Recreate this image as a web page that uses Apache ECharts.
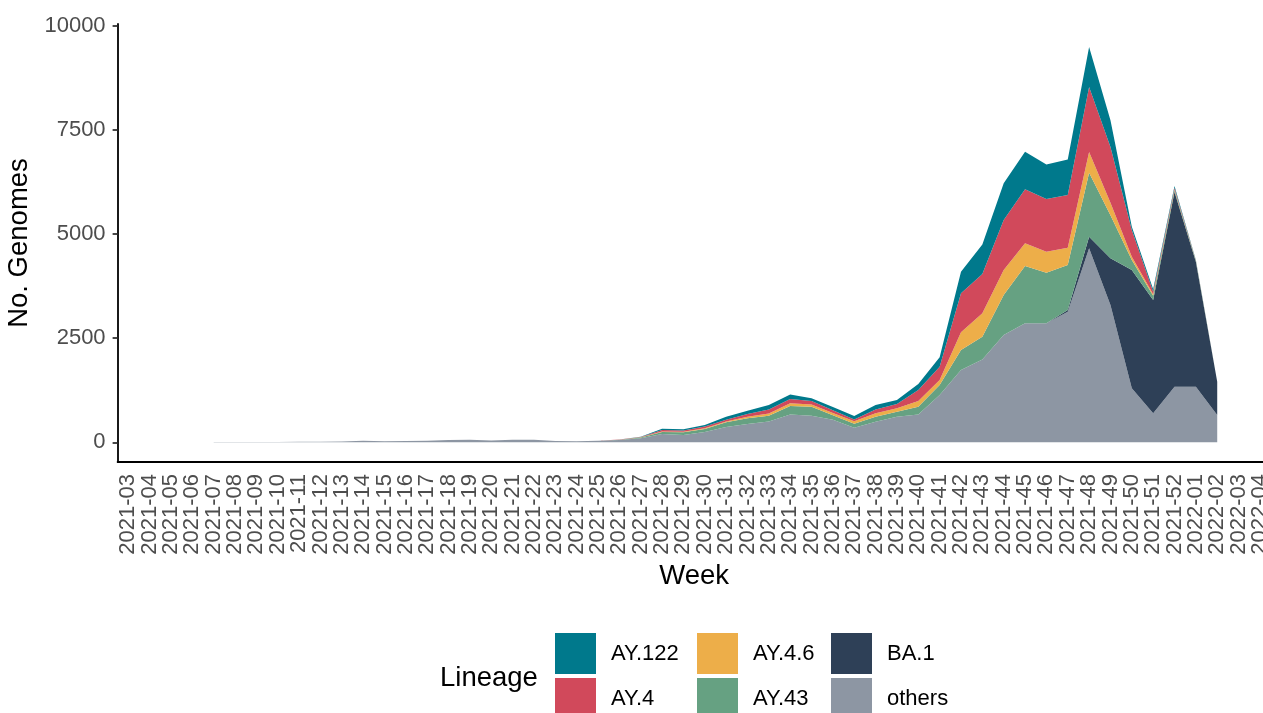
<!DOCTYPE html>
<html>
<head>
<meta charset="utf-8">
<script src="https://cdn.jsdelivr.net/npm/echarts@6/dist/echarts.min.js"></script>
<style>
  html, body { margin: 0; padding: 0; background: #fff; }
  #chart { width: 1263px; height: 713px; }
</style>
</head>
<body>
<div id="chart"></div>
<script>
// Weekly sequenced genomes by lineage (stacked)
const weeks = [
  '2021-03','2021-04','2021-05','2021-06','2021-07','2021-08','2021-09','2021-10','2021-11','2021-12',
  '2021-13','2021-14','2021-15','2021-16','2021-17','2021-18','2021-19','2021-20','2021-21','2021-22',
  '2021-23','2021-24','2021-25','2021-26','2021-27','2021-28','2021-29','2021-30','2021-31','2021-32',
  '2021-33','2021-34','2021-35','2021-36','2021-37','2021-38','2021-39','2021-40','2021-41','2021-42',
  '2021-43','2021-44','2021-45','2021-46','2021-47','2021-48','2021-49','2021-50','2021-51','2021-52',
  '2022-01','2022-02','2022-03','2022-04'
];

const others = [
  null, null, null, null, 8, 10, 6, 10, 12, 14,
  20, 35, 28, 30, 35, 55, 60, 45, 62, 60,
  30, 25, 35, 55, 100, 200, 175, 250, 365, 440,
  500, 670, 640, 540, 350, 495, 615, 670, 1135, 1735,
  1990, 2575, 2855, 2855, 3135, 4655, 3295, 1295, 700, 1335,
  1335, 655, null, null
];
const ba1 = [
  null, null, null, null, 0, 0, 0, 0, 0, 0,
  0, 0, 0, 0, 0, 0, 0, 0, 0, 0,
  0, 0, 0, 0, 0, 0, 0, 0, 0, 0,
  0, 0, 0, 0, 0, 0, 0, 0, 0, 0,
  0, 0, 0, 0, 40, 280, 1120, 2840, 2715, 4675,
  3000, 800, null, null
];
const ay43 = [
  null, null, null, null, 0, 0, 0, 0, 0, 0,
  0, 0, 0, 0, 0, 0, 0, 0, 0, 0,
  0, 0, 3, 8, 15, 47, 65, 70, 115, 140,
  140, 200, 215, 110, 95, 120, 120, 185, 240, 480,
  545, 960, 1375, 1215, 1080, 1535, 1035, 240, 100, 40,
  15, 0, null, null
];
const ay46 = [
  null, null, null, null, 0, 0, 0, 0, 0, 0,
  0, 0, 0, 0, 0, 0, 0, 0, 0, 0,
  0, 0, 0, 0, 5, 15, 15, 20, 20, 35,
  50, 70, 55, 55, 60, 80, 80, 135, 120, 425,
  560, 600, 545, 505, 415, 500, 300, 80, 40, 20,
  5, 0, null, null
];
const ay4 = [
  null, null, null, null, 0, 0, 0, 0, 0, 0,
  0, 0, 0, 0, 0, 0, 0, 0, 0, 0,
  0, 0, 2, 4, 8, 35, 30, 40, 40, 65,
  95, 100, 80, 65, 45, 95, 105, 265, 320, 935,
  945, 1200, 1300, 1265, 1265, 1560, 1340, 640, 60, 40,
  10, 0, null, null
];
const ay122 = [
  null, null, null, null, 0, 0, 0, 0, 0, 0,
  0, 0, 0, 0, 0, 0, 0, 0, 0, 0,
  0, 0, 0, 3, 7, 30, 26, 35, 75, 80,
  110, 110, 65, 75, 80, 105, 95, 145, 225, 520,
  710, 880, 900, 830, 855, 960, 640, 80, 60, 40,
  10, 0, null, null
];

const yTicks = [0, 2500, 5000, 7500, 10000];

const palette = {
  'AY.122': '#00798c',
  'AY.4': '#d1495b',
  'AY.4.6': '#edae49',
  'AY.43': '#66a182',
  'BA.1': '#2e4057',
  'others': '#8d96a3'
};

// bottom-to-top stacking order
const layers = [
  ['others', others],
  ['BA.1', ba1],
  ['AY.43', ay43],
  ['AY.4.6', ay46],
  ['AY.4', ay4],
  ['AY.122', ay122]
];

const FONT = 'Liberation Sans, Arial, sans-serif';

function legendColumn(left, names) {
  return {
    orient: 'vertical',
    left: left,
    top: 633,
    width: 130,
    height: 120,
    itemWidth: 41,
    itemHeight: 41,
    itemGap: 4,
    icon: 'rect',
    selectedMode: false,
    padding: 0,
    itemStyle: { borderWidth: 0 },
    textStyle: { fontFamily: FONT, fontSize: 22, color: '#000', padding: [0, 0, 0, 10] },
    data: names
  };
}

const chart = echarts.init(document.getElementById('chart'), null, { renderer: 'canvas' });

chart.setOption({
  animation: false,
  backgroundColor: '#fff',
  grid: {
    left: 117.6, top: 24, width: 1153, height: 438,
    containLabel: false,
    outerBoundsMode: 'none'
  },
  xAxis: {
    type: 'category',
    data: weeks,
    boundaryGap: true,
    name: 'Week',
    nameLocation: 'middle',
    nameGap: 100,
    nameTextStyle: { fontFamily: FONT, fontSize: 27.5, color: '#000' },
    axisLine: { onZero: false, lineStyle: { color: '#000', width: 1.8 } },
    axisTick: { alignWithLabel: true, length: 5, lineStyle: { color: '#333', width: 1.8 } },
    axisLabel: {
      interval: 0,
      rotate: 90,
      margin: 12,
      fontFamily: FONT,
      fontSize: 22,
      color: '#4d4d4d'
    },
    splitLine: { show: false }
  },
  yAxis: {
    type: 'value',
    min: -473,
    max: 10040,
    name: 'No. Genomes',
    nameLocation: 'middle',
    nameGap: 80,
    nameRotate: 90,
    nameTextStyle: { fontFamily: FONT, fontSize: 27.5, color: '#000' },
    axisLine: { show: true, lineStyle: { color: '#000', width: 1.8 } },
    axisTick: { show: true, length: 5, customValues: yTicks, lineStyle: { color: '#333', width: 1.8 } },
    axisLabel: {
      customValues: yTicks,
      formatter: function (v) { return String(v); },
      margin: 12,
      fontFamily: FONT,
      fontSize: 22,
      color: '#4d4d4d'
    },
    splitLine: { show: false }
  },
  legend: [
    legendColumn(555, ['AY.122', 'AY.4']),
    legendColumn(697, ['AY.4.6', 'AY.43']),
    legendColumn(831, ['BA.1', 'others'])
  ],
  graphic: [
    {
      type: 'text',
      left: 440,
      top: 664,
      style: { text: 'Lineage', font: '27.5px ' + FONT, fill: '#000' }
    }
  ],
  series: layers.map(function (l) {
    return {
      name: l[0],
      type: 'line',
      stack: 'total',
      data: l[1],
      symbol: 'none',
      showSymbol: false,
      smooth: false,
      connectNulls: false,
      lineStyle: { width: 0 },
      itemStyle: { color: palette[l[0]] },
      areaStyle: { color: palette[l[0]], opacity: 1 },
      emphasis: { disabled: true }
    };
  })
});
</script>
</body>
</html>
